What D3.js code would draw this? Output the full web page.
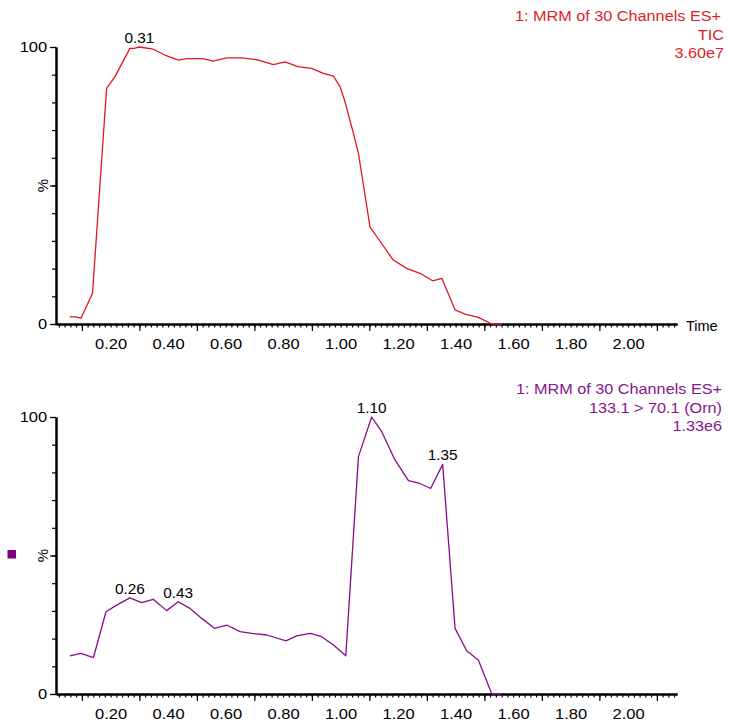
<!DOCTYPE html>
<html>
<head>
<meta charset="utf-8">
<script src="https://cdn.jsdelivr.net/npm/d3@7"></script>
<style>
body{margin:0;background:#fff;}
svg{display:block;}
</style>
</head>
<body>
<script>
// TIC trace (top panel)
var ticTimes = [0.058,0.079,0.097,0.137,0.186,0.215,0.267,0.282,0.300,0.348,0.389,0.435,0.465,0.520,0.557,0.604,0.656,0.714,0.766,0.807,0.851,0.899,0.940,0.975,0.998,1.015,1.044,1.062,1.102,1.126,1.183,1.230,1.276,1.320,1.352,1.398,1.433,1.479,1.526,1.561];
var ticValues = [2.6,2.6,2.1,11.1,85.1,89.3,99.5,99.5,100,99.2,97.1,95.3,95.8,95.8,94.9,96.1,96.1,95.3,93.6,94.6,92.9,92.3,90.5,89.5,85.7,80.3,69.0,61.6,35.1,31.5,23.1,20.1,18.3,15.6,16.5,5.1,3.6,2.4,0,0];
var ticLegend = ["1: MRM of 30 Channels ES+","TIC","3.60e7"];
var ticPeakLabels = ["0.31"];
var ticPeakTimes = [0.300];

// Orn channel (bottom panel)
var ornTimes = [0.058,0.097,0.140,0.184,0.221,0.267,0.308,0.348,0.395,0.435,0.476,0.517,0.561,0.604,0.650,0.691,0.743,0.810,0.847,0.894,0.934,0.975,1.018,1.062,1.108,1.143,1.189,1.236,1.276,1.313,1.355,1.398,1.439,1.479,1.526,1.561];
var ornValues = [13.8,14.7,13.1,29.7,32.1,34.7,33.0,34.2,30.1,33.3,30.9,27.3,23.7,24.9,22.5,21.9,21.3,19.2,21.0,21.9,20.7,17.7,13.8,85.7,100,94.7,84.5,77.0,76.0,74.2,82.9,23.7,15.5,12.3,0,0];
var ornLegend = ["1: MRM of 30 Channels ES+","133.1 > 70.1 (Orn)","1.33e6"];
var ornPeakLabels = ["0.26","0.43","1.10","1.35"];
var ornPeakTimes = [0.267,0.435,1.108,1.355];

// axis ticks
var xLabelTicks = [0.2,0.4,0.6,0.8,1.0,1.2,1.4,1.6,1.8,2.0];
var xMinorTicks = d3.range(1,109).map(function(i){return i*0.02;});
var xLongTicks = [0.1,0.3,0.5,0.7,0.9,1.1,1.3,1.5,1.7,1.9,2.1];
var yMinorTicks = [0,10,20,30,40,50,60,70,80,90,100];
var yLongTicks = [0,50,100];
var yLabelTicks = [0,100];

var W = 729, H = 722;
var FONT = "'Liberation Sans', Arial, sans-serif";
var STRETCH = "scale(1.1,1)";

var svg = d3.select("body").append("svg")
	.attr("width",W)
	.attr("height",H);

var x = d3.scaleLinear()
	.domain([0.01,2.17])
	.range([56,677]);

function drawPanel(p){
	var y = d3.scaleLinear()
		.domain([0,100])
		.range([p.bottom,p.top]);

	// y axis
	var g = svg.append("g").attr("transform","translate("+x(0.01)+",0)");
	g.call(d3.axisLeft(y).tickValues(yMinorTicks).tickSize(4).tickSizeOuter(0).tickFormat(""));
	g.append("g").call(d3.axisLeft(y).tickValues(yLongTicks).tickSize(6).tickSizeOuter(0).tickFormat(""));
	var yl = g.append("g").call(d3.axisLeft(y).tickValues(yLabelTicks).tickSize(0).tickPadding(8).tickFormat(d3.format("d")));
	yl.select(".domain").remove();
	yl.selectAll("text").style("font-family",FONT).style("font-size","15px").attr("fill","#000").attr("transform",STRETCH);
	g.selectAll(".domain").attr("stroke-width",2).attr("stroke","#000");
	g.selectAll(".tick line").attr("stroke-width",1.2).attr("stroke","#000");

	// x axis
	var gx = svg.append("g").attr("transform","translate(0,"+p.bottom+")");
	gx.call(d3.axisBottom(x).tickValues(xMinorTicks).tickSize(3.5).tickSizeOuter(0).tickFormat(""));
	gx.append("g").call(d3.axisBottom(x).tickValues(xLongTicks).tickSize(7).tickSizeOuter(0).tickFormat(""));
	var xl = gx.append("g").call(d3.axisBottom(x).tickValues(xLabelTicks).tickSize(0).tickPadding(14).tickFormat(d3.format(".2f")));
	xl.select(".domain").remove();
	xl.selectAll("text").style("font-family",FONT).style("font-size","15px").attr("fill","#000").attr("transform",STRETCH);
	gx.selectAll(".domain").attr("stroke-width",2).attr("stroke","#000");
	gx.selectAll(".tick line").attr("stroke-width",1.2).attr("stroke","#000");

	// % label
	svg.append("text")
		.text("%")
		.attr("transform","translate(48,"+y(50)+") rotate(-90)")
		.attr("text-anchor","middle")
		.style("font-family",FONT)
		.style("font-size","15px")
		.attr("fill","#000");

	// trace
	var pts = p.times.map(function(t,i){return [t,p.values[i]];});
	var line = d3.line()
		.x(function(d){return x(d[0]);})
		.y(function(d){return y(d[1]);});
	svg.append("path")
		.datum(pts)
		.attr("d",line)
		.attr("fill","none")
		.attr("stroke",p.color)
		.attr("stroke-width",1.3)
		.attr("stroke-linejoin","round");

	// peak labels
	for (var i=0;i<p.peakLabels.length;i++){
		var idx = p.times.indexOf(p.peakTimes[i]);
		svg.append("text")
			.text(p.peakLabels[i])
			.attr("transform","translate("+x(p.times[idx])+","+(y(p.values[idx])-4)+") "+STRETCH)
			.attr("text-anchor","middle")
			.style("font-family",FONT)
			.style("font-size","14px")
			.attr("fill","#000");
	}

	// header text
	for (var j=0;j<p.legend.length;j++){
		svg.append("text")
			.text(p.legend[j])
			.attr("transform","translate("+p.legendX[j]+","+(p.legendY+j*18.7)+") scale(1.12,1)")
			.attr("text-anchor","end")
			.style("font-family",FONT)
			.style("font-size","14.5px")
			.attr("fill",p.textColor);
	}
	return y;
}

drawPanel({
	top:47, bottom:324,
	times:ticTimes, values:ticValues,
	color:"#e3161e", textColor:"#dc1f28",
	legend:ticLegend, legendX:[721,724,724], legendY:21,
	peakLabels:ticPeakLabels, peakTimes:ticPeakTimes
});

drawPanel({
	top:417, bottom:694,
	times:ornTimes, values:ornValues,
	color:"#850f8a", textColor:"#86168a",
	legend:ornLegend, legendX:[722,722,722], legendY:394,
	peakLabels:ornPeakLabels, peakTimes:ornPeakTimes
});

svg.append("text")
	.text("Time")
	.attr("x",686)
	.attr("y",331)
	.style("font-family",FONT)
	.style("font-size","14.5px")
	.attr("fill","#000");

// channel marker square
svg.append("rect")
	.attr("x",7.5)
	.attr("y",550)
	.attr("width",8.5)
	.attr("height",8.5)
	.attr("fill","#800080");
</script>
</body>
</html>
